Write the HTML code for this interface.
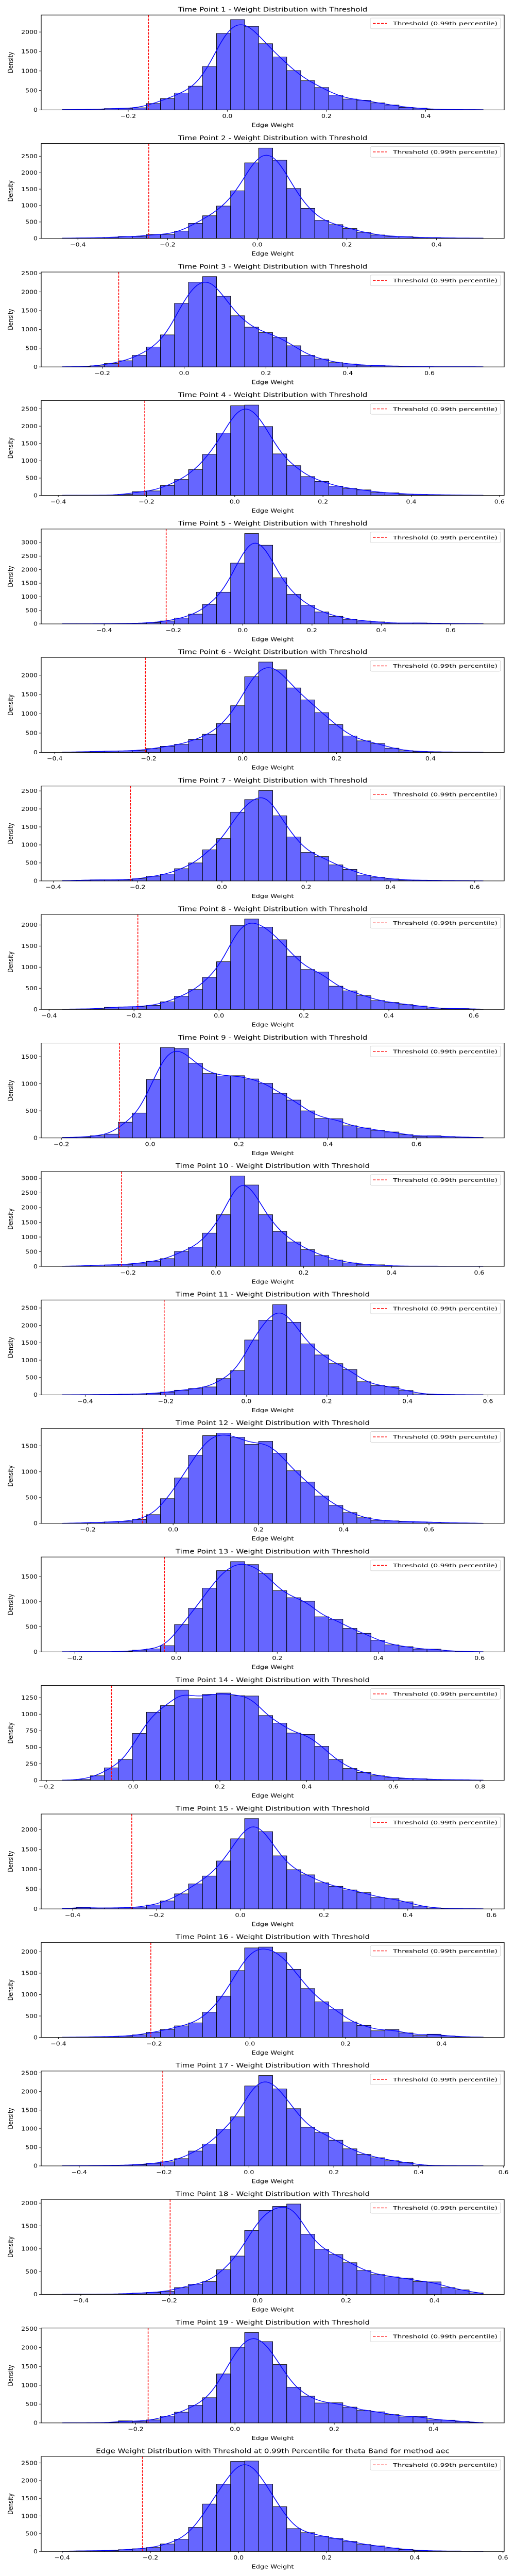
<!DOCTYPE html>
<html><head><meta charset="utf-8"><meta name="viewport" content="width=1000"><style>
html,body{margin:0;padding:0;background:#fff;width:100%;height:100%;overflow:hidden;}
svg{display:block;width:100vw;height:100vh;font-family:"DejaVu Sans","Liberation Sans",sans-serif;}
</style></head><body>
<svg id="fig" xmlns="http://www.w3.org/2000/svg" viewBox="0 0 1000 6000" preserveAspectRatio="none"></svg>
<script>
const titles = [];
for (let i = 1; i <= 19; i++) titles.push("Time Point " + i + " - Weight Distribution with Threshold");
titles.push("Edge Weight Distribution with Threshold at 0.99th Percentile for theta Band for method aec");

const xMin = [-0.333,-0.435,-0.298,-0.391,-0.521,-0.384,-0.379,-0.369,-0.198,-0.350,-0.457,-0.260,-0.225,-0.1635,-0.425,-0.392,-0.440,-0.442,-0.348,-0.400];
const xMax = [0.516,0.504,0.731,0.563,0.694,0.512,0.620,0.622,0.750,0.609,0.588,0.727,0.607,0.807,0.580,0.487,0.552,0.510,0.500,0.555];
const thresholds = [-0.159,-0.242,-0.160,-0.204,-0.221,-0.207,-0.217,-0.191,-0.069,-0.215,-0.204,-0.072,-0.023,-0.050,-0.259,-0.207,-0.203,-0.198,-0.175,-0.218];

const binCounts = [
[10,10,15,35,40,55,165,290,435,610,1115,1965,2320,2145,1700,1360,1010,750,575,380,280,250,180,125,65,45,15,10,8,8],
[10,15,20,30,60,60,120,120,225,460,690,985,1450,2300,2750,2380,1520,915,550,420,300,185,105,60,55,25,25,15,10,10],
[5,10,30,90,165,310,530,855,1695,2260,2410,1885,1365,1060,915,790,565,310,210,115,80,45,35,25,15,10,5,5,5,5],
[5,5,5,10,30,110,130,285,460,745,1185,1800,2590,2610,1990,1200,860,545,405,270,200,160,85,75,35,30,20,15,10,5],
[5,5,5,10,15,25,50,110,215,360,720,1170,2240,3330,2900,1700,1090,690,440,280,170,110,75,30,30,35,25,15,10,10],
[10,15,25,35,40,50,100,160,210,335,470,750,1210,1960,2340,2140,1670,1360,1030,720,425,300,230,110,45,25,15,10,10,5],
[10,20,30,30,30,60,130,190,340,500,865,1175,1910,2260,2510,1810,1220,790,675,445,320,160,100,55,25,20,15,10,10,5],
[10,10,15,50,60,65,95,180,315,470,760,1130,1990,2140,1950,1650,1260,945,885,550,440,325,210,165,115,80,35,20,20,10],
[10,15,40,70,290,460,1080,1670,1655,1380,1190,1145,1150,1090,1010,825,700,500,360,355,225,185,140,110,60,30,40,25,15,10],
[10,20,45,50,70,110,175,265,510,660,1135,1760,3075,2770,1760,1190,830,570,370,220,120,70,55,15,10,10,10,5,5,5],
[5,5,10,10,20,25,45,80,135,185,230,470,700,1580,2150,2600,2090,1470,1150,900,730,380,270,235,130,30,15,10,5,5],
[5,10,20,30,40,75,170,480,880,1320,1700,1750,1670,1530,1590,1360,1020,800,530,350,210,110,60,50,35,30,25,10,10,5],
[5,5,5,5,10,35,60,125,545,870,1270,1620,1800,1740,1560,1220,1080,1010,700,650,470,370,235,140,105,55,55,20,10,5],
[5,15,70,190,315,710,1030,1130,1365,1235,1300,1320,1280,1275,980,865,715,695,515,315,180,120,70,45,30,25,15,10,10,5],
[15,40,20,25,30,45,100,200,380,630,830,1210,1770,2280,1950,1340,990,860,660,570,480,410,290,260,180,70,25,10,5,5],
[5,10,15,20,30,60,120,185,270,340,590,965,1560,2090,2110,1980,1590,1140,830,660,360,280,155,185,105,45,75,35,15,10],
[5,5,10,15,20,35,70,110,195,400,590,990,1320,2150,2430,2070,1540,1040,900,690,460,310,220,140,95,20,10,5,5,5],
[5,5,5,5,15,30,45,65,150,225,280,540,840,1400,1840,1930,1980,1320,990,875,695,525,435,385,355,280,275,150,100,35],
[5,5,5,10,55,40,80,180,285,470,670,1300,2010,2400,2160,1550,950,710,530,535,420,330,295,220,160,175,80,75,40,10],
[10,15,20,25,50,75,110,210,345,680,1340,1900,2545,2555,1900,1265,645,530,430,370,285,195,155,95,55,25,15,10,10,5]
];

const NS = "http://www.w3.org/2000/svg";
const svg = document.getElementById("fig");
function mk(tag, attrs, parent) {
  const e = document.createElementNS(NS, tag);
  for (const k in attrs) e.setAttribute(k, attrs[k]);
  (parent || svg).appendChild(e);
  return e;
}
const AX_L = 80, AX_R = 979, AX_H = 221, PITCH = 299.3, TOP0 = 35;
function fmtX(v) { const s = Math.abs(v).toFixed(1); return (v < -1e-9 ? "\u2212" : "") + s; }

for (let p = 0; p < 20; p++) {
  const counts = binCounts[p];
  const top = TOP0 + p * PITCH, bot = top + AX_H;
  const span = xMax[p] - xMin[p];
  const lo = xMin[p] - 0.05 * span, hi = xMax[p] + 0.05 * span;
  const sx = v => AX_L + (v - lo) / (hi - lo) * (AX_R - AX_L);
  const yTop = Math.max(...counts) * 1.05;
  const sy = v => bot - v / yTop * AX_H;

  const g = mk("g", {});
  
  

  const t = mk("text", {x: (AX_L + AX_R) / 2, y: top - 8, "text-anchor": "middle", "font-size": 15, fill: "#000"}, g);
  t.textContent = titles[p];
  
  

  const nb = counts.length, bw = span / nb;
  const bars = mk("g", {}, g);
  
  
  for (let i = 0; i < nb; i++) {
    const x0 = sx(xMin[p] + i * bw), x1 = sx(xMin[p] + (i + 1) * bw);
    const r = mk("rect", {x: x0, y: sy(counts[i]), width: x1 - x0, height: bot - sy(counts[i]), fill: "#6666ff", stroke: "#000", "stroke-width": 1}, bars);
    
    
  }

  const sig = bw * 0.75;
  let d = "";
  for (let k = 0; k <= 200; k++) {
    const x = xMin[p] + span * k / 200;
    let s = 0, wsum = 0;
    for (let i = 0; i < nb; i++) {
      const c = xMin[p] + (i + 0.5) * bw;
      const w = Math.exp(-0.5 * ((x - c) / sig) ** 2);
      s += counts[i] * w; wsum += w;
    }
    const val = s / Math.max(wsum, 1e-9) * Math.min(1, wsum / (Math.sqrt(2 * Math.PI) * sig / bw));
    d += (k ? "L" : "M") + sx(x).toFixed(1) + "," + sy(val).toFixed(1);
  }
  const kde = mk("path", {d: d, fill: "none", stroke: "#0000ff", "stroke-width": 1.6}, g);
  
  

  const th = mk("line", {x1: sx(thresholds[p]), x2: sx(thresholds[p]), y1: top, y2: bot, stroke: "#ff0000", "stroke-width": 1.5, "stroke-dasharray": "5.5,2.5"}, g);
  
  

  const fr = mk("rect", {x: AX_L, y: top, width: AX_R - AX_L, height: AX_H, fill: "none", stroke: "#000", "stroke-width": 1.2}, g);
  
  

  const steps = [100, 200, 250, 500, 1000];
  let st = 500;
  for (const s of steps) { if (Math.floor(yTop / s) + 1 <= 7) { st = s; break; } }
  for (let v = 0; v <= yTop; v += st) {
    mk("line", {x1: AX_L - 4, x2: AX_L, y1: sy(v), y2: sy(v), stroke: "#000", "stroke-width": 1}, g);
    const tl = mk("text", {x: AX_L - 7, y: sy(v) + 4.5, "text-anchor": "end", "font-size": 12.5, fill: "#000"}, g);
    tl.textContent = String(v);
    
    
  }
  for (let v = Math.ceil(lo / 0.2 - 1e-6) * 0.2; v <= hi + 1e-9; v += 0.2) {
    const X = sx(v);
    mk("line", {x1: X, x2: X, y1: bot, y2: bot + 4, stroke: "#000", "stroke-width": 1}, g);
    const tl = mk("text", {x: X, y: bot + 19, "text-anchor": "middle", "font-size": 12.5, fill: "#000"}, g);
    tl.textContent = fmtX(Math.round(v * 10) / 10);
    
    
  }
  const xl = mk("text", {x: (AX_L + AX_R) / 2, y: bot + 40, "text-anchor": "middle", "font-size": 13, fill: "#000"}, g);
  xl.textContent = "Edge Weight";
  
  
  const cy = top + AX_H / 2;
  const yl = mk("text", {x: 25, y: cy, "text-anchor": "middle", "font-size": 13, fill: "#000", transform: "rotate(-90 25 " + cy + ")"}, g);
  yl.textContent = "Density";
  
  

  const lg = mk("g", {}, g);
  
  
  mk("rect", {x: 719, y: top + 7, width: 253, height: 25, rx: 3, fill: "#fff", "fill-opacity": 0.8, stroke: "#d0d0d0", "stroke-width": 1}, lg);
  mk("line", {x1: 724, x2: 751, y1: top + 19.5, y2: top + 19.5, stroke: "#ff0000", "stroke-width": 1.5, "stroke-dasharray": "5.5,2.5"}, lg);
  const lt = mk("text", {x: 763, y: top + 24, "font-size": 12, fill: "#000", textLength: 203, lengthAdjust: "spacingAndGlyphs"}, lg);
  lt.textContent = "Threshold (0.99th percentile)";
  
  
}
</script>
</body></html>
